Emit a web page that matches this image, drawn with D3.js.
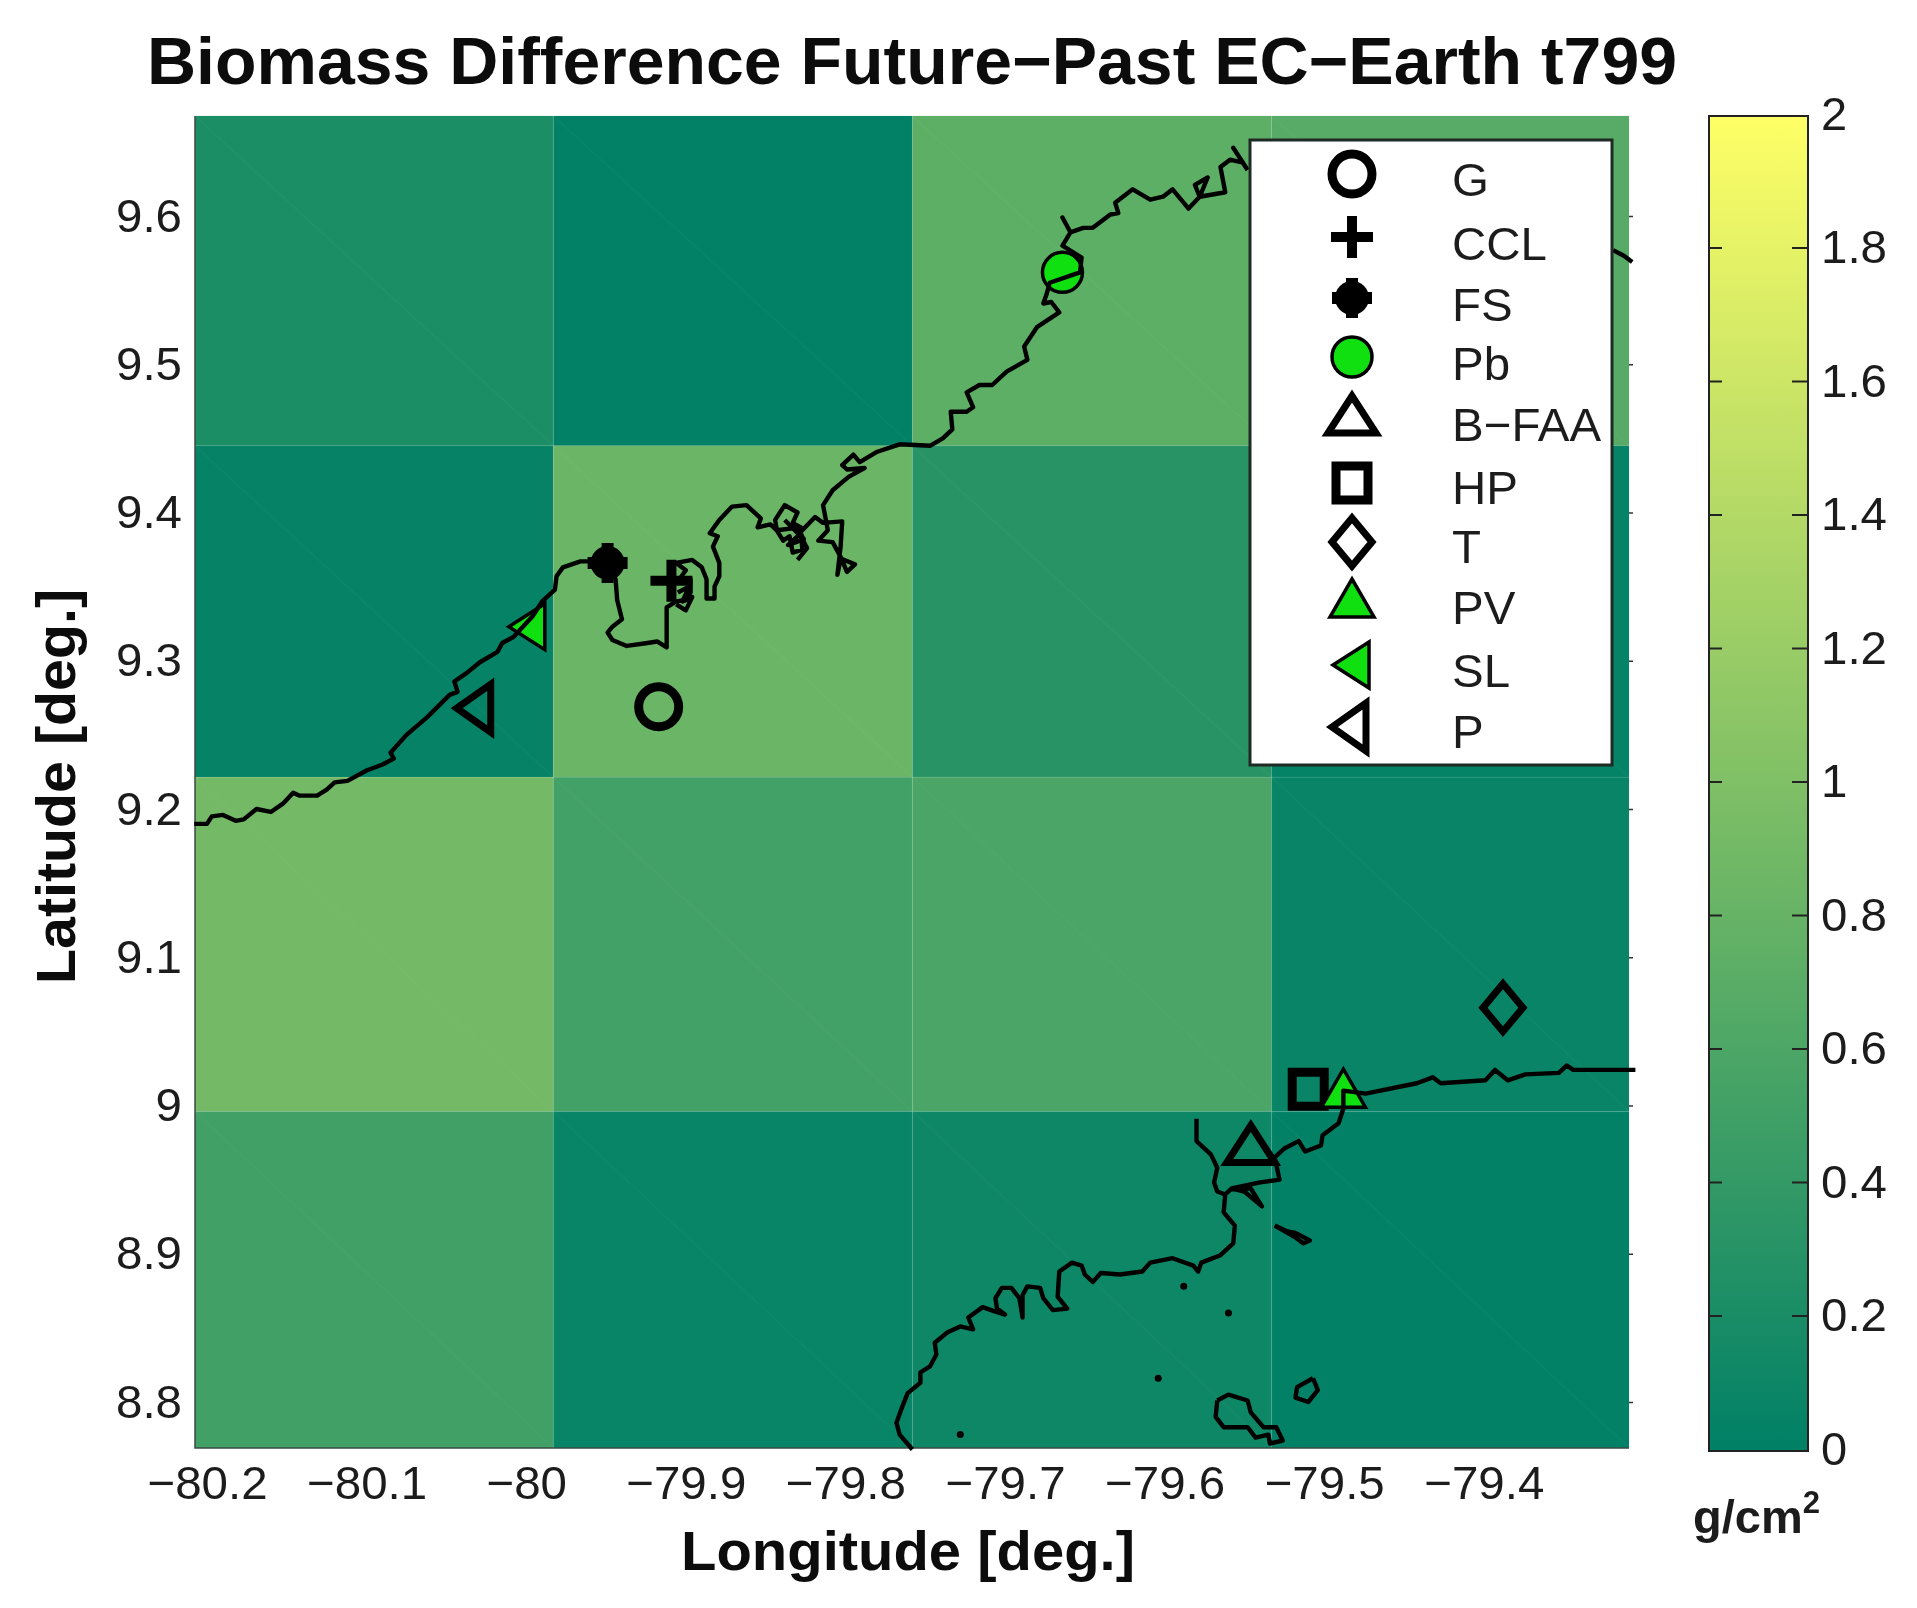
<!DOCTYPE html>
<html>
<head>
<meta charset="utf-8">
<script src="https://cdn.jsdelivr.net/npm/d3@7"></script>
<style>
  html, body { margin: 0; padding: 0; background: #fff; }
  svg { display: block; filter: blur(0.7px); }
  text { font-family: "Liberation Sans", Arial, sans-serif; fill: #1c1c1c; }
</style>
</head>
<body>
<svg id="chart" width="1917" height="1608"></svg>
<script>
// grid cell edges and biomass difference, rows from north to south
const lonEdges = [-80.2075, -79.983, -79.758, -79.533, -79.309];
const latEdges = [9.6675, 9.445, 9.2215, 8.996, 8.769];
const cellValues = [
  [0.22, 0.02, 0.74, 0.68],
  [0.05, 0.84, 0.31, 0.04],
  [0.90, 0.52, 0.58, 0.07],
  [0.50, 0.06, 0.11, 0.02]
];

const xTicks = [-80.2, -80.1, -80, -79.9, -79.8, -79.7, -79.6, -79.5, -79.4];
const yTicks = [8.8, 8.9, 9, 9.1, 9.2, 9.3, 9.4, 9.5, 9.6];
const cbTicks = [0, 0.2, 0.4, 0.6, 0.8, 1, 1.2, 1.4, 1.6, 1.8, 2];

// stations
const stationNames = ["G", "CCL", "FS", "Pb", "B\u2212FAA", "HP", "T", "PV", "SL", "P"];
const stationLon = [-79.917, -79.909, -79.949, -79.664, -79.546, -79.510, -79.388, -79.488, -79.999, -80.031];
const stationLat = [9.269, 9.354, 9.366, 9.562, 8.973, 9.011, 9.066, 9.011, 9.323, 9.268];

// coastline, lon/lat pairs
const coastNorth = [
  [-80.208,9.190],[-80.2,9.190],[-80.197,9.195],[-80.190,9.196],[-80.182,9.192],[-80.177,9.193],[-80.169,9.200],
  [-80.160,9.198],[-80.152,9.204],[-80.146,9.211],[-80.142,9.209],[-80.131,9.209],[-80.125,9.213],[-80.120,9.218],
  [-80.112,9.219],[-80.100,9.226],[-80.090,9.230],[-80.083,9.234],[-80.085,9.238],[-80.075,9.250],[-80.062,9.262],
  [-80.048,9.277],[-80.043,9.279],[-80.045,9.286],[-80.037,9.292],[-80.029,9.299],[-80.018,9.306],[-80.015,9.312],
  [-80.008,9.316],[-79.996,9.330],[-79.990,9.340],[-79.982,9.348],[-79.981,9.357],[-79.977,9.363],[-79.966,9.367],
  [-79.959,9.367],[-79.949,9.366],[-79.944,9.355],[-79.943,9.341],[-79.940,9.328],[-79.946,9.323],[-79.949,9.319],
  [-79.946,9.314],[-79.937,9.310],[-79.924,9.312],[-79.918,9.313],[-79.912,9.309],[-79.912,9.336],[-79.906,9.340],
  [-79.900,9.341],[-79.897,9.346],[-79.897,9.355],[-79.904,9.355],[-79.900,9.361],[-79.906,9.366],[-79.896,9.368],
  [-79.890,9.363],[-79.887,9.355],[-79.887,9.342],[-79.882,9.342],[-79.882,9.350],[-79.879,9.357],[-79.879,9.366],
  [-79.883,9.377],[-79.880,9.384],[-79.885,9.386],[-79.879,9.395],[-79.871,9.404],[-79.862,9.405],[-79.853,9.396],
  [-79.855,9.390],[-79.847,9.392],[-79.843,9.388],[-79.844,9.395],[-79.838,9.405],[-79.830,9.400],[-79.833,9.393],
  [-79.828,9.390],[-79.827,9.375],[-79.833,9.373],[-79.835,9.384],[-79.839,9.381],[-79.843,9.388],[-79.828,9.390],
  [-79.827,9.388],[-79.819,9.397],[-79.814,9.393],[-79.802,9.394],[-79.803,9.377],[-79.805,9.358],[-79.803,9.369],
  [-79.794,9.365],[-79.799,9.360],[-79.803,9.370],[-79.808,9.380],[-79.817,9.381],[-79.811,9.388],[-79.814,9.405],
  [-79.808,9.415],[-79.798,9.424],[-79.788,9.430],[-79.799,9.429],[-79.802,9.432],[-79.795,9.439],[-79.791,9.434],
  [-79.780,9.441],[-79.766,9.446],[-79.747,9.445],[-79.739,9.450],[-79.733,9.456],[-79.734,9.468],[-79.724,9.468],
  [-79.720,9.471],[-79.724,9.481],[-79.716,9.486],[-79.708,9.486],[-79.699,9.495],[-79.686,9.503],[-79.688,9.512],
  [-79.680,9.525],[-79.666,9.535],[-79.671,9.542],[-79.676,9.541],[-79.674,9.547],[-79.672,9.555],[-79.653,9.562],
  [-79.652,9.572],[-79.664,9.580],[-79.659,9.589],[-79.664,9.599],[-79.659,9.589],[-79.651,9.592],[-79.645,9.592],
  [-79.634,9.601],[-79.629,9.602],[-79.631,9.609],[-79.620,9.618],[-79.609,9.611],[-79.601,9.613],[-79.595,9.618],
  [-79.585,9.605],[-79.578,9.613],[-79.581,9.621],[-79.573,9.626],[-79.578,9.613],[-79.562,9.616],[-79.565,9.633],
  [-79.559,9.638],[-79.551,9.636],[-79.557,9.646],[-79.548,9.631]
];
const coastNorthEnd = [[-79.319,9.577],[-79.312,9.573],[-79.307,9.569]];
const coastSouth = [
  [-79.305,9.024],[-79.344,9.024],[-79.348,9.027],[-79.353,9.022],[-79.374,9.021],[-79.385,9.017],[-79.393,9.024],
  [-79.399,9.017],[-79.427,9.015],[-79.432,9.019],[-79.442,9.015],[-79.474,9.008],[-79.488,9.010],[-79.488,8.998],
  [-79.491,8.988],[-79.501,8.980],[-79.502,8.973],[-79.512,8.969],[-79.516,8.976],[-79.525,8.971],[-79.531,8.965],
  [-79.528,8.950],[-79.541,8.948],[-79.558,8.944],[-79.550,8.942],[-79.539,8.932],[-79.546,8.944],[-79.558,8.944],
  [-79.562,8.940],[-79.563,8.928],[-79.556,8.919],[-79.557,8.907],[-79.565,8.899],[-79.577,8.894],[-79.579,8.888],
  [-79.582,8.892],[-79.595,8.897],[-79.609,8.894],[-79.614,8.888],[-79.628,8.886],[-79.640,8.887],[-79.645,8.881],
  [-79.650,8.886],[-79.652,8.892],[-79.658,8.894],[-79.666,8.888],[-79.667,8.871],[-79.661,8.863],[-79.670,8.862],
  [-79.676,8.870],[-79.678,8.877],[-79.686,8.878],[-79.689,8.872],[-79.689,8.857],[-79.691,8.870],[-79.696,8.877],
  [-79.702,8.877],[-79.706,8.870],[-79.705,8.863],[-79.700,8.859],[-79.706,8.861],[-79.714,8.864],[-79.723,8.857],
  [-79.720,8.849],[-79.728,8.851],[-79.736,8.847],[-79.744,8.840],[-79.743,8.832],[-79.747,8.824],[-79.753,8.820],
  [-79.753,8.813],[-79.761,8.806],[-79.765,8.795],[-79.768,8.786],[-79.766,8.778],[-79.758,8.768]
];
const coastSpur = [[-79.580,8.991],[-79.580,8.976],[-79.571,8.967],[-79.567,8.958],[-79.569,8.948],[-79.567,8.942],[-79.562,8.940]];
// knotted mangrove bits of the north coast
const coastKnotA = [[-79.905,9.346],[-79.898,9.350],[-79.902,9.340],[-79.896,9.343],[-79.900,9.334],[-79.906,9.338]];
const coastKnotB = [[-79.838,9.395],[-79.829,9.385],[-79.836,9.378],[-79.826,9.382],[-79.832,9.392],[-79.824,9.376],[-79.830,9.368]];
const islandA = [[-79.567,8.801],[-79.560,8.805],[-79.548,8.801],[-79.546,8.793],[-79.538,8.783],[-79.530,8.783],[-79.526,8.774],
  [-79.534,8.772],[-79.535,8.778],[-79.543,8.776],[-79.548,8.783],[-79.563,8.783],[-79.568,8.790],[-79.567,8.801]];
const islandB = [[-79.507,8.816],[-79.504,8.808],[-79.510,8.800],[-79.518,8.803],[-79.517,8.810],[-79.507,8.816]];
const islandC = [[-79.531,8.919],[-79.523,8.915],[-79.518,8.914],[-79.509,8.909],[-79.513,8.907],[-79.518,8.911],[-79.531,8.919]];
const islets = [[-79.588,8.878],[-79.560,8.860],[-79.604,8.816],[-79.728,8.778]];

// layout
const plot = { left: 195, right: 1629, top: 116, bottom: 1448 };
const bar = { left: 1709, right: 1808, top: 116, bottom: 1451 };
const legendBox = { left: 1250, right: 1612, top: 140, bottom: 765, markX: 1352, textX: 1452 };
const legendMarkY = [174, 237, 298, 357, 416, 483, 542, 599, 665, 727];
const legendTextY = [180, 244, 305, 364, 425, 488, 547, 608, 671, 732];

const svg = d3.select("#chart");

const x = d3.scaleLinear().domain([-80.2, -79.4]).range([207, 1483.8]);
const y = d3.scaleLinear().domain([8.8, 9.6]).range([1402, 216]);
const colorScale = d3.scaleLinear().domain([0, 2]).range(["#008066", "#ffff66"]);
const barScale = d3.scaleLinear().domain([0, 2]).range([1449, 114]);

// widen text a bit, the reference is stretched sideways
function stretch(sel, k) {
  sel.each(function () {
    d3.select(this)
      .attr("textLength", this.getComputedTextLength() * k)
      .attr("lengthAdjust", "spacingAndGlyphs");
  });
}

// 1) cells
const cells = [];
cellValues.forEach((row, r) => row.forEach((v, c) => {
  cells.push({ v, x0: lonEdges[c], x1: lonEdges[c + 1], y0: latEdges[r], y1: latEdges[r + 1] });
}));

svg.append("g").selectAll("rect")
  .data(cells)
  .join("rect")
    .attr("x", d => x(d.x0))
    .attr("y", d => y(d.y0))
    .attr("width", d => x(d.x1) - x(d.x0))
    .attr("height", d => y(d.y1) - y(d.y0))
    .attr("fill", d => colorScale(d.v));

// faint triangle seams of the surface patches
svg.append("g").selectAll("line")
  .data(cells)
  .join("line")
    .attr("x1", d => x(d.x0))
    .attr("y1", d => y(d.y0))
    .attr("x2", d => x(d.x1))
    .attr("y2", d => y(d.y1))
    .attr("stroke", "#fff")
    .attr("stroke-opacity", 0.03)
    .attr("stroke-width", 1.5);

const seams = svg.append("g").attr("stroke", "#fff").attr("stroke-opacity", 0.05).attr("stroke-width", 1.5);
lonEdges.slice(1, -1).forEach(v => seams.append("line")
  .attr("x1", x(v)).attr("x2", x(v)).attr("y1", plot.top).attr("y2", plot.bottom));
latEdges.slice(1, -1).forEach(v => seams.append("line")
  .attr("y1", y(v)).attr("y2", y(v)).attr("x1", plot.left).attr("x2", plot.right));

// plot edges
svg.append("path")
  .attr("d", `M${plot.left},${plot.top}V${plot.bottom}H${plot.right}`)
  .attr("fill", "none")
  .attr("stroke", "#3a4a42")
  .attr("stroke-width", 1.5);

// 2) axes
const xAxis = svg.append("g")
  .attr("transform", `translate(0,${plot.bottom})`)
  .call(d3.axisBottom(x).tickValues(xTicks).tickSize(0).tickPadding(18).tickFormat(d3.format("")));
const yAxis = svg.append("g")
  .attr("transform", `translate(${plot.left},0)`)
  .call(d3.axisLeft(y).tickValues(yTicks).tickSize(0).tickPadding(13).tickFormat(d3.format("")));
[xAxis, yAxis].forEach(a => {
  a.select(".domain").remove();
  a.selectAll("text").style("font-size", "47px").call(stretch, 1.01);
});

// little tick marks left over on the right side
const rightTicks = svg.append("g")
  .attr("transform", `translate(${plot.right},0)`)
  .call(d3.axisRight(y).tickValues(yTicks).tickSize(4).tickFormat(""));
rightTicks.select(".domain").remove();
rightTicks.selectAll("line").attr("stroke", "#333").attr("stroke-width", 1.5);

// 3) station markers
const markerLine = d3.line();
const GREEN = "#10e010";
const triUp = [[0, -20], [24, 17], [-24, 17]];
const triUpFill = [[0, -20], [22, 18], [-22, 18]];
const triLeftFill = [[-19, 0], [17, -23], [17, 23]];
const triLeft = [[-20, 0], [14, -24], [14, 24]];
const square = [[-16, -17], [16, -17], [16, 17], [-16, 17]];
const diamond = [[0, -24], [20, 0], [0, 24], [-20, 0]];

function poly(g, pts, fill, sw) {
  g.append("path")
    .attr("d", markerLine(pts) + "Z")
    .attr("fill", fill)
    .attr("stroke", "#000")
    .attr("stroke-width", sw)
    .attr("stroke-linejoin", "miter")
    .attr("stroke-miterlimit", 6);
}
function plus(g, arm, sw) {
  g.append("path")
    .attr("d", `M${-arm},0H${arm}M0,${-arm}V${arm}`)
    .attr("stroke", "#000")
    .attr("stroke-width", sw)
    .attr("fill", "none");
}
const drawMarker = {
  "G": g => g.append("circle").attr("r", 20).attr("fill", "none").attr("stroke", "#000").attr("stroke-width", 9),
  "CCL": g => plus(g, 21, 10),
  "FS": g => { plus(g, 20, 12); g.append("circle").attr("r", 17).attr("fill", "#000"); },
  "Pb": g => g.append("circle").attr("r", 20).attr("fill", GREEN).attr("stroke", "#000").attr("stroke-width", 3.5),
  "B\u2212FAA": g => poly(g, triUp, "none", 7),
  "HP": g => poly(g, square, "none", 9),
  "T": g => poly(g, diamond, "none", 7),
  "PV": g => poly(g, triUpFill, GREEN, 3.5),
  "SL": g => poly(g, triLeftFill, GREEN, 3.5),
  "P": g => poly(g, triLeft, "none", 7)
};

stationNames.forEach((name, i) => {
  const g = svg.append("g").attr("transform", `translate(${x(stationLon[i])},${y(stationLat[i])})`);
  drawMarker[name](g);
});

// 4) coastline goes over the markers
const coastLine = d3.line().x(d => x(d[0])).y(d => y(d[1]));
svg.append("g").selectAll("path")
  .data([coastNorth, coastNorthEnd, coastSouth, coastSpur, coastKnotA, coastKnotB, islandA, islandB, islandC])
  .join("path")
    .attr("d", coastLine)
    .attr("fill", "none")
    .attr("stroke", "#000")
    .attr("stroke-width", 4.4)
    .attr("stroke-linejoin", "round");
svg.append("g").selectAll("circle")
  .data(islets)
  .join("circle")
    .attr("cx", d => x(d[0]))
    .attr("cy", d => y(d[1]))
    .attr("r", 3.5)
    .attr("fill", "#000");

// 5) legend
svg.append("rect")
  .attr("x", legendBox.left)
  .attr("y", legendBox.top)
  .attr("width", legendBox.right - legendBox.left)
  .attr("height", legendBox.bottom - legendBox.top)
  .attr("fill", "#fff")
  .attr("stroke", "#1f2a25")
  .attr("stroke-width", 3);

stationNames.forEach((name, i) => {
  const g = svg.append("g").attr("transform", `translate(${legendBox.markX},${legendMarkY[i]})`);
  drawMarker[name](g);
  svg.append("text")
    .attr("x", legendBox.textX)
    .attr("y", legendTextY[i] + 16)
    .style("font-size", "47px")
    .text(name)
    .call(stretch, 1.01);
});

// 6) colorbar
const grad = svg.append("defs").append("linearGradient")
  .attr("id", "summer")
  .attr("x1", 0).attr("x2", 0).attr("y1", 1).attr("y2", 0);
grad.append("stop").attr("offset", "0%").attr("stop-color", colorScale(0));
grad.append("stop").attr("offset", "100%").attr("stop-color", colorScale(2));

svg.append("rect")
  .attr("x", bar.left)
  .attr("y", bar.top)
  .attr("width", bar.right - bar.left)
  .attr("height", bar.bottom - bar.top)
  .attr("fill", "url(#summer)")
  .attr("stroke", "#222")
  .attr("stroke-width", 2);

const barRight = svg.append("g")
  .attr("transform", `translate(${bar.right},0)`)
  .call(d3.axisRight(barScale).tickValues(cbTicks.slice(1, -1)).tickSize(-16).tickPadding(13).tickFormat(d3.format("")));
const barLeft = svg.append("g")
  .attr("transform", `translate(${bar.left},0)`)
  .call(d3.axisLeft(barScale).tickValues(cbTicks.slice(1, -1)).tickSize(-13).tickFormat(""));
[barRight, barLeft].forEach(a => {
  a.select(".domain").remove();
  a.selectAll("line").attr("stroke", "#222").attr("stroke-width", 2);
});
// end labels sit on the bar edges, no tick marks there
svg.append("g").selectAll("text")
  .data([0, 2])
  .join("text")
    .attr("x", bar.right + 13)
    .attr("y", d => barScale(d) + 16)
    .style("font-size", "47px")
    .text(d => d);
barRight.selectAll("text").style("font-size", "47px").call(stretch, 1.01);

const unit = svg.append("text")
  .attr("x", 1693)
  .attr("y", 1533)
  .style("font-size", "47px")
  .style("font-weight", "bold");
unit.append("tspan").text("g/cm");
unit.append("tspan").attr("dy", -20).style("font-size", "31px").text("2");

// 7) titles
svg.append("text")
  .attr("x", 147)
  .attr("y", 84)
  .attr("textLength", 1530)
  .attr("lengthAdjust", "spacingAndGlyphs")
  .style("font-size", "67px")
  .style("font-weight", "bold")
  .style("fill", "#0c0c0c")
  .text("Biomass Difference Future\u2212Past EC\u2212Earth t799");

svg.append("text")
  .attr("x", 681)
  .attr("y", 1570)
  .attr("textLength", 454)
  .attr("lengthAdjust", "spacingAndGlyphs")
  .style("font-size", "56px")
  .style("font-weight", "bold")
  .style("fill", "#0c0c0c")
  .text("Longitude [deg.]");

svg.append("text")
  .attr("transform", "translate(75,984) rotate(-90)")
  .attr("textLength", 395)
  .attr("lengthAdjust", "spacingAndGlyphs")
  .style("font-size", "56px")
  .style("font-weight", "bold")
  .style("fill", "#0c0c0c")
  .text("Latitude [deg.]");
</script>
</body>
</html>
